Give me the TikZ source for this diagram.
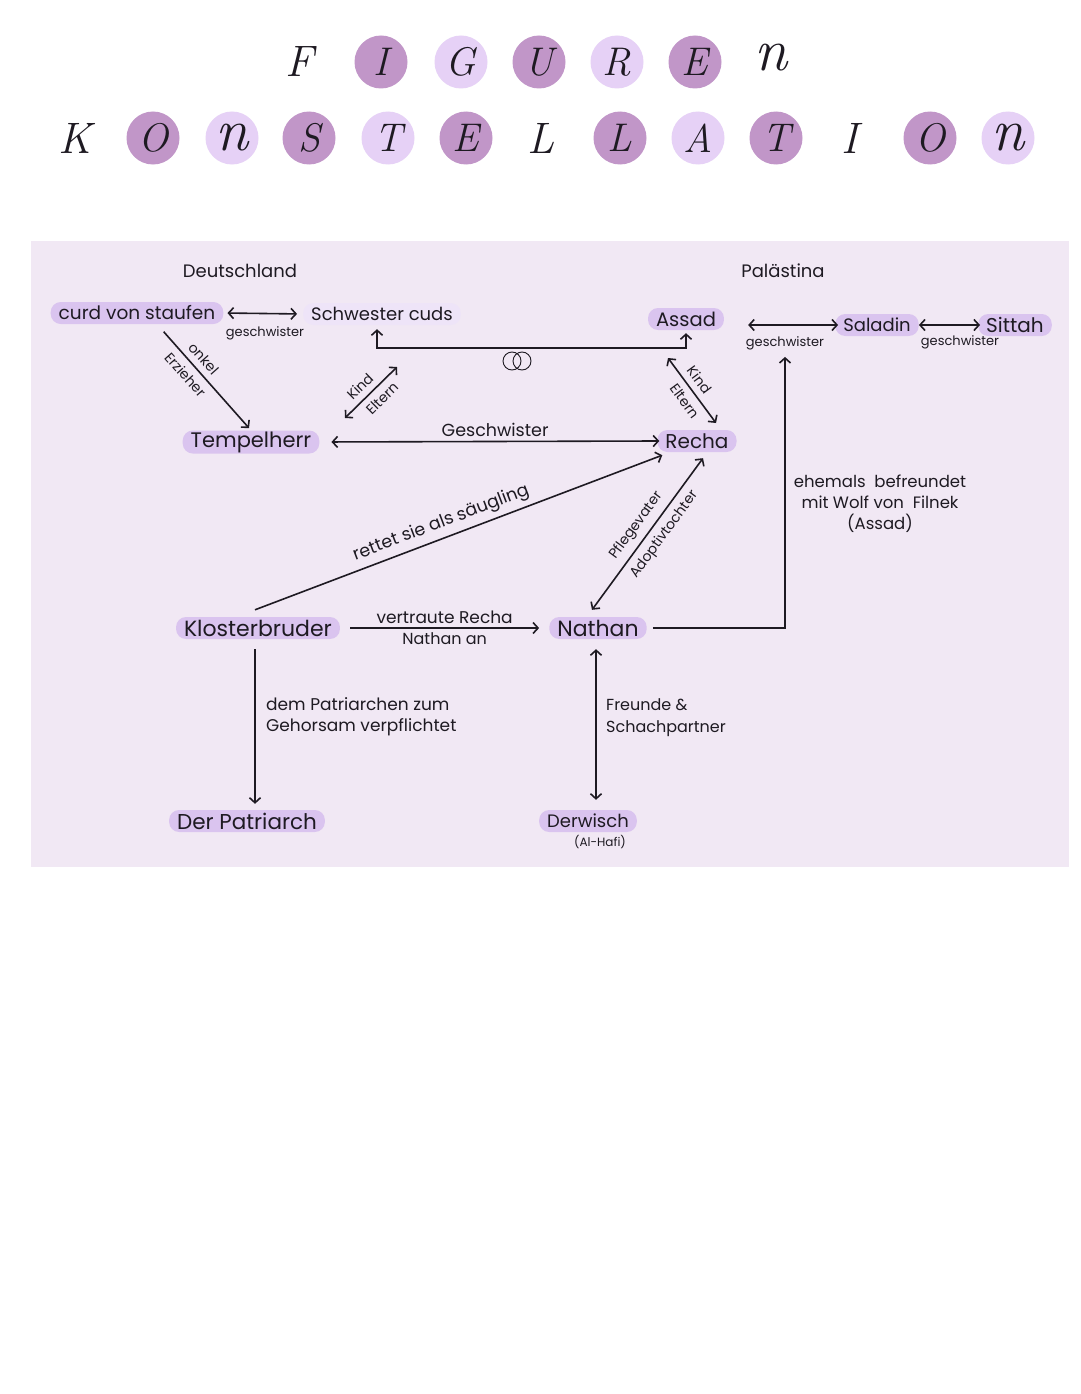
\documentclass[tikz,border=0pt]{standalone}
\usepackage{fontspec}
\newfontfamily\hand{Poppins}
\usetikzlibrary{arrows.meta}
\definecolor{panel}{HTML}{F1E8F4}
\definecolor{hl}{HTML}{DAC4EF}
\definecolor{dk}{HTML}{C196C8}
\definecolor{lt}{HTML}{E6D1F6}
\definecolor{ink}{HTML}{1E1A22}
\tikzset{
  person/.style={fill=hl, rounded corners=10pt, inner xsep=8pt, inner ysep=1pt,
    minimum height=22pt, text=ink, font=\hand\fontsize{20}{22}\selectfont},
  lbl/.style={text=ink, inner sep=1pt, font=\hand\fontsize{13}{15}\selectfont},
  slbl/.style={text=ink, inner sep=1pt, font=\hand\fontsize{14}{16}\selectfont},
  mlbl/.style={text=ink, inner sep=1pt, font=\hand\fontsize{16.5}{21}\selectfont},
  conn/.style={draw=ink, line width=1.6pt},
  >={Straight Barb[length=5pt,width=11pt]},
  tlet/.style={text=ink, inner sep=0pt, font=\fontsize{44}{44}\selectfont\itshape},
  tcirc/.style={circle, minimum size=53pt, inner sep=0pt, text=ink,
    font=\fontsize{40}{40}\selectfont\itshape},
}
\begin{document}
\begin{tikzpicture}[x=1pt,y=-1pt]
\path[use as bounding box] (0,0) rectangle (1080,1394);
\fill[white] (0,0) rectangle (1080,1394);
% title row 1
\node[tlet] (t1) at (300,62) {F};
\node[tcirc, fill=dk] (t2) at (381,62) {I};
\node[tcirc, fill=lt] (t3) at (461,62) {G};
\node[tcirc, fill=dk] (t4) at (539,62) {U};
\node[tcirc, fill=lt] (t5) at (617,62) {R};
\node[tcirc, fill=dk] (t6) at (695,62) {E};
\node[tlet, font=\fontsize{60}{60}\selectfont\itshape] (t7) at (771,58) {n};
% title row 2
\node[tlet] (k1) at (75,138) {K};
\node[tcirc, fill=dk] (k2) at (153,138) {O};
\node[tcirc, fill=lt, font=\fontsize{60}{60}\selectfont\itshape] (k3) at (232,138) {n};
\node[tcirc, fill=dk] (k4) at (309,138) {S};
\node[tcirc, fill=lt] (k5) at (388,138) {T};
\node[tcirc, fill=dk] (k6) at (466,138) {E};
\node[tlet] (k7) at (541,138) {L};
\node[tcirc, fill=dk] (k8) at (620,138) {L};
\node[tcirc, fill=lt] (k9) at (698,138) {A};
\node[tcirc, fill=dk] (k10) at (776,138) {T};
\node[tlet] (k11) at (850,138) {I};
\node[tcirc, fill=dk] (k12) at (930,138) {O};
\node[tcirc, fill=lt, font=\fontsize{60}{60}\selectfont\itshape] (k13) at (1008,138) {n};
% panel
\fill[panel] (31,241) rectangle (1069,867);
% regions
\node[mlbl, font=\hand\fontsize{18}{20}\selectfont] (de) at (240,271) {Deutschland};
\node[mlbl, font=\hand\fontsize{18}{20}\selectfont] (pa) at (783,271) {Palästina};
% persons
\node[person, font=\hand\fontsize{18.5}{20}\selectfont] (curd) at (137,313) {curd von staufen};
\node[person, fill=hl!45, font=\hand\fontsize{18}{20}\selectfont] (schw) at (382,314) {Schwester cuds};
\node[person, font=\hand\fontsize{19.5}{21}\selectfont] (assad) at (686,319) {Assad};
\node[person, font=\hand\fontsize{18}{20}\selectfont] (sal) at (877,325) {Saladin};
\node[person] (sit) at (1015,325) {Sittah};
\node[person, font=\hand\fontsize{21}{23}\selectfont] (temp) at (251,442) {Tempelherr};
\node[person] (recha) at (697,441) {Recha};
\node[person, font=\hand\fontsize{22}{24}\selectfont] (klo) at (258,628) {Klosterbruder};
\node[person, font=\hand\fontsize{22}{24}\selectfont] (nat) at (598,628) {Nathan};
\node[person, font=\hand\fontsize{21.5}{23}\selectfont] (patr) at (247,821) {Der Patriarch};
\node[person, font=\hand\fontsize{18}{20}\selectfont] (derw) at (588,821) {Derwisch};
\node[lbl, font=\hand\fontsize{12}{14}\selectfont] (hafi) at (600,842) {(Al-Hafi)};
% small labels
\node[lbl] (gs0) at (265,333) {geschwister};
\node[lbl] (gs1) at (785,343) {geschwister};
\node[lbl] (gs2) at (960,342) {geschwister};
% marriage symbol
\draw[ink, line width=0.9pt] (512,361) circle (9) (522,361) circle (9);
% connectors
\draw[conn,<->, shorten <=4pt, shorten >=6pt] (curd.east) -- (schw.west);
\draw[conn,->, shorten <=10pt, shorten >=3pt] ([xshift=20pt]curd.south) -- (temp.north)
  node[slbl, sloped, above=5pt, pos=0.4] {onkel}
  node[slbl, sloped, below=5pt, pos=0.4] {Erzieher};
\draw[conn,<->, shorten <=4pt, shorten >=3pt] ([xshift=-5pt]schw.south) -- ([xshift=-5pt]schw.south |- 0,348) -- (assad.south |- 0,348) -- (assad.south);
\coordinate (ke1) at (345,418);
\coordinate (ke2) at (397,367);
\draw[conn,<->] (ke1) -- (ke2)
  node[slbl, sloped, above=5pt, pos=0.45] {Kind}
  node[slbl, sloped, below=5pt, pos=0.55] {Eltern};
\coordinate (ke3) at (668,358);
\coordinate (ke4) at (716,423);
\draw[conn,<->] (ke3) -- (ke4)
  node[slbl, sloped, above=5pt, pos=0.45] {Kind}
  node[slbl, sloped, below=5pt, pos=0.55] {Eltern};
\draw[conn,<->, shorten <=12pt, shorten >=-2pt] (temp.east) -- (recha.west)
  node[mlbl, font=\hand\fontsize{17.5}{19}\selectfont, above=3pt, pos=0.52] {Geschwister};
\draw[conn,->] ([shift={(-3pt,7pt)}]klo.north) -- ([shift={(5pt,-3pt)}]recha.south west)
  node[mlbl, font=\hand\fontsize{17.5}{19}\selectfont, sloped, above=4pt, pos=0.47] {rettet sie als säugling};
\draw[conn,<->] ([shift={(-6pt,7pt)}]nat.north) -- ([shift={(6pt,-6pt)}]recha.south)
  node[slbl, sloped, above=5pt, pos=0.5] {Pflegevater}
  node[slbl, sloped, below=5pt, pos=0.55] {Adoptivtochter};
\draw[conn,->, shorten <=10pt, shorten >=10pt] (klo.east) -- (nat.west)
  node[mlbl, font=\hand\fontsize{17}{19}\selectfont, above=3pt, midway] {vertraute Recha}
  node[mlbl, font=\hand\fontsize{16}{18}\selectfont, below=3pt, midway] {Nathan an};
\draw[conn,->, shorten <=10pt, shorten >=6pt] ([xshift=-3pt]klo.south) -- ([xshift=-3pt]klo.south |- patr.north);
\draw[conn,<->, shorten <=10pt, shorten >=10pt] ([xshift=-2pt]nat.south) -- ([xshift=-2pt]nat.south |- derw.north);
\draw[conn,->, shorten <=6pt, shorten >=6pt] (nat.east) -| (gs1.south);
\draw[conn,<->, shorten <=24pt, shorten >=-3pt] (assad.east |- sal.west) -- (sal.west);
\draw[conn,<->, shorten <=0pt, shorten >=-2pt] (sal.east) -- (sit.west);
% side texts
\node[mlbl, font=\hand\fontsize{17}{21}\selectfont, align=left, anchor=west] (pat) at (265,717) {dem Patriarchen zum\\Gehorsam verpflichtet};
\node[mlbl, font=\hand\fontsize{16}{22}\selectfont, align=left, anchor=west] (fr) at (605,718) {Freunde \&\\Schachpartner};
\node[mlbl, align=center] (wolf) at (880,504) {ehemals\ \ befreundet\\mit Wolf von\ \ Filnek\\(Assad)};
\end{tikzpicture}
\end{document}
